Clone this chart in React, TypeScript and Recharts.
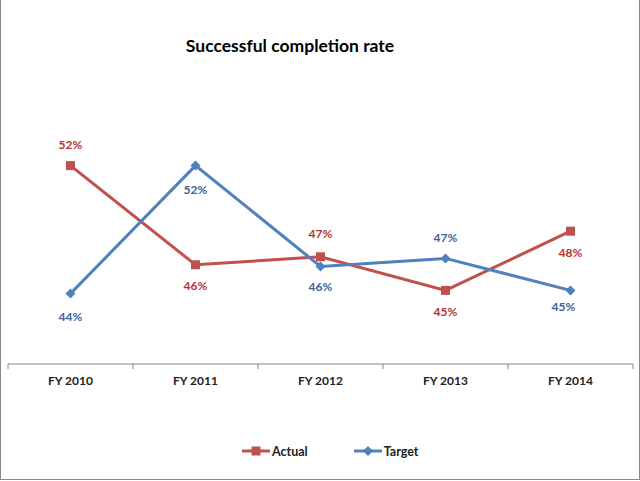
import React from 'react';
import { LineChart, Line, XAxis, YAxis } from 'recharts';

const categories = ['FY 2010', 'FY 2011', 'FY 2012', 'FY 2013', 'FY 2014'];
const actual = [52.4, 46.2, 46.7, 44.6, 48.3];
const target = [44.4, 52.4, 46.1, 46.6, 44.6];

const data = categories.map((name, i) => ({ name, actual: actual[i], target: target[i] }));

// where each data label sits relative to its marker (px, + is below)
const actualLabelDy = [-21, 21, -23, 21, 21];
const targetLabelDy = [23, 24, 20, -21, 16];
const targetLabelDx = [0, 0, 0, 0, -7];

const RED = '#C0504D';
const BLUE = '#4F81BD';
const FONT = 'Lato, "Open Sans", sans-serif';
const BAND = 125;

const SquareDot = (props: any) => {
  const { cx, cy } = props;
  return <rect x={cx - 4.5} y={cy - 4.5} width={9} height={9} fill={RED} />;
};

const DiamondDot = (props: any) => {
  const { cx, cy } = props;
  return <path d={`M${cx},${cy - 5} L${cx + 5},${cy} L${cx},${cy + 5} L${cx - 5},${cy} Z`} fill={BLUE} />;
};

const makeLabel = (color: string, dys: number[], dxs?: number[]) => (props: any) => {
  const { x, y, value, index } = props;
  return (
    <text
      x={x + (dxs ? dxs[index] : 0)}
      y={y + dys[index]}
      textAnchor="middle"
      dominantBaseline="central"
      fill={color}
      fontFamily={FONT}
      fontWeight="bold"
      fontSize={12}
    >
      {`${Math.round(value)}%`}
    </text>
  );
};

const CategoryTick = (props: any) => {
  const { x, y, payload, index } = props;
  return (
    <g>
      <line x1={x - BAND / 2} y1={y} x2={x - BAND / 2} y2={y + 5} stroke="#868686" />
      {index === categories.length - 1 && (
        <line x1={x + BAND / 2} y1={y} x2={x + BAND / 2} y2={y + 5} stroke="#868686" />
      )}
      <text x={x} y={y + 21} textAnchor="middle" fill="#222" fontFamily={FONT} fontWeight="bold" fontSize={12}>
        {payload.value}
      </text>
    </g>
  );
};

export default function App() {
  return (
    <div
      style={{
        position: 'absolute',
        left: 0,
        top: 0,
        width: 640,
        height: 480,
        boxSizing: 'border-box',
        borderLeft: '1px solid #888',
        borderRight: '1px solid #888',
        borderBottom: '1px solid #888',
        background: '#fff',
        fontFamily: FONT,
      }}
    >
      <div
        style={{
          position: 'absolute',
          left: 0,
          width: 578,
          top: 35,
          textAlign: 'center',
          fontWeight: 'bold',
          fontSize: 17.5,
          color: '#000',
        }}
      >
        Successful completion rate
      </div>
      <div style={{ position: 'absolute', left: -1, top: 0 }}>
        <LineChart width={640} height={481} data={data} margin={{ top: 44, right: 7, left: 8, bottom: 0 }}>
          <XAxis
            dataKey="name"
            height={117}
            padding={{ left: BAND / 2, right: BAND / 2 }}
            axisLine={{ stroke: '#868686' }}
            tickLine={false}
            tickSize={0}
            tickMargin={0}
            interval={0}
            tick={<CategoryTick />}
          />
          <YAxis hide domain={[40, 60]} />
          <Line
            dataKey="actual"
            stroke={RED}
            strokeWidth={3}
            dot={<SquareDot />}
            activeDot={false}
            label={makeLabel('#B8312E', actualLabelDy)}
            isAnimationActive={false}
          />
          <Line
            dataKey="target"
            stroke={BLUE}
            strokeWidth={3}
            dot={<DiamondDot />}
            activeDot={false}
            label={makeLabel('#3D639A', targetLabelDy, targetLabelDx)}
            isAnimationActive={false}
          />
        </LineChart>
      </div>
      <div style={{ position: 'absolute', left: 240, top: 443, display: 'flex', alignItems: 'center', fontSize: 12.5, fontWeight: 'bold', color: '#222' }}>
        <svg width={30} height={16}>
          <line x1={1} y1={8} x2={29} y2={8} stroke={RED} strokeWidth={3} />
          <rect x={10.5} y={3.5} width={9} height={9} fill={RED} />
        </svg>
        <span style={{ marginLeft: 1 }}>Actual</span>
        <svg width={30} height={16} style={{ marginLeft: 45 }}>
          <line x1={1} y1={8} x2={29} y2={8} stroke={BLUE} strokeWidth={3} />
          <path d="M15,3 L20,8 L15,13 L10,8 Z" fill={BLUE} />
        </svg>
        <span style={{ marginLeft: 1 }}>Target</span>
      </div>
    </div>
  );
}
